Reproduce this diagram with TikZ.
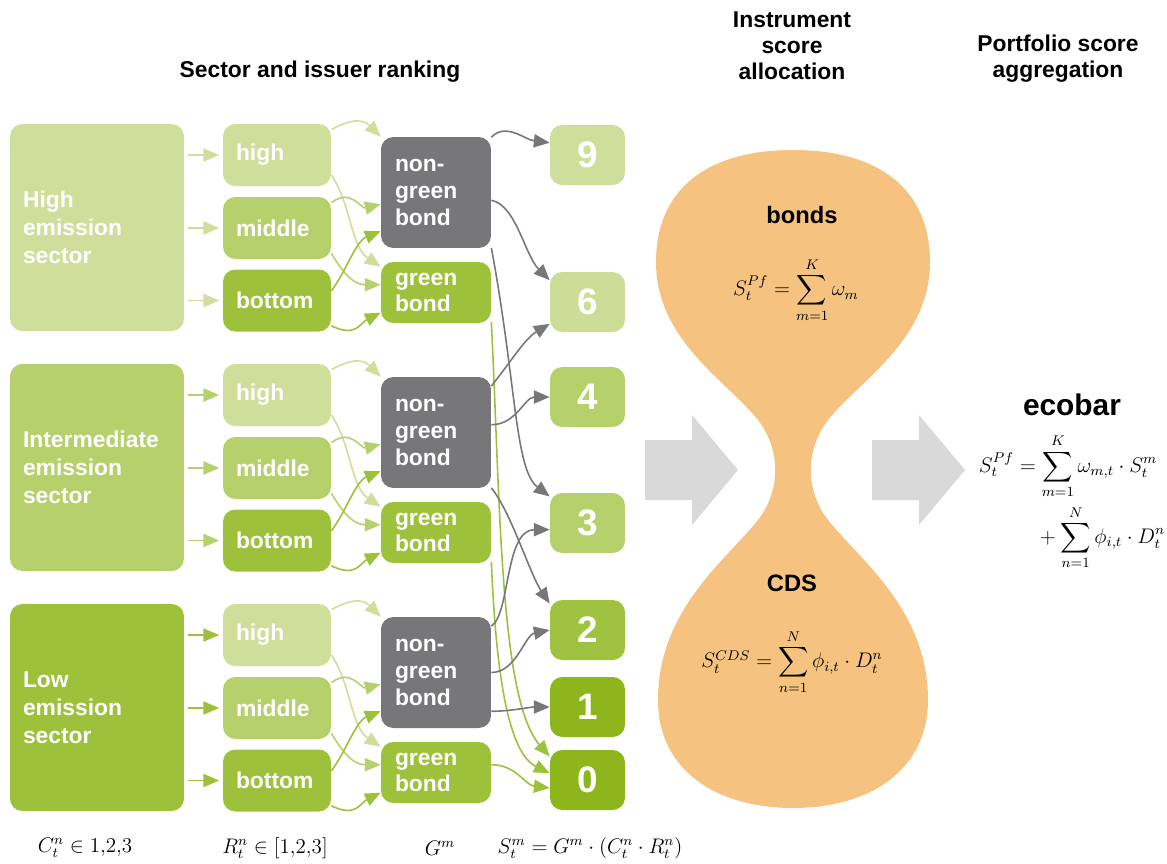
\documentclass[tikz,border=0pt]{standalone}
\usepackage[no-math]{fontspec}
\setmainfont{Liberation Sans}
\usepackage{amsmath}
\usetikzlibrary{arrows.meta}
\definecolor{lgreen}{HTML}{D0DE9C}
\definecolor{mgreen}{HTML}{B6D06C}
\definecolor{dgreen}{HTML}{9DC13B}
\definecolor{xgreen}{HTML}{8DB61C}
\definecolor{bgray}{HTML}{77777A}
\definecolor{sand}{HTML}{F5C37F}
\definecolor{pale}{HTML}{D9D9D9}
\begin{document}
\begin{tikzpicture}[x=0.02cm, y=-0.02cm,
  boxbase/.style={rectangle, rounded corners=7pt, text=white, inner ysep=0pt},
  secbox/.style={boxbase, minimum width=3.48cm, minimum height=4.14cm, text width=2.96cm, inner xsep=0.26cm, align=left, font=\bfseries\fontsize{13}{15.9}\selectfont},
  rankbox/.style={boxbase, minimum width=2.16cm, minimum height=1.24cm, text width=1.64cm, inner xsep=0.26cm, align=left, font=\bfseries\fontsize{13}{15.9}\selectfont},
  bondbox/.style={boxbase, minimum width=2.2cm, text width=1.64cm, inner xsep=0.28cm, align=left, font=\bfseries\fontsize{13}{15.3}\selectfont},
  scorebox/.style={boxbase, minimum width=1.5cm, minimum height=1.2cm, font=\bfseries\fontsize{21}{24}\selectfont},
  headtxt/.style={align=center, font=\bfseries\fontsize{13}{14.7}\selectfont},
  mathtxt/.style={font=\fontsize{12}{14}\selectfont},
  link/.style={line width=0.9pt, -{Triangle[length=9pt,width=7.5pt]}},
]
\useasboundingbox (0,0) rectangle (1167,863);

% titles
\node[headtxt] (hsec) at (320,72) {Sector and issuer ranking};
\node[headtxt] (hins) at (792,46) {Instrument\\score\\allocation};
\node[headtxt] (hpf) at (1058,59) {Portfolio score\\aggregation};

% sectors
\node[secbox, fill=lgreen] (sec1) at (97,227.5) {High\\emission\\sector};
\node[secbox, fill=mgreen] (sec2) at (97,467.5) {Intermediate\\emission\\sector};
\node[secbox, fill=dgreen] (sec3) at (97,707.5) {Low\\emission\\sector};

% issuer ranking
\node[rankbox, fill=lgreen] (hi1) at (277,155) {high};
\node[rankbox, fill=mgreen] (mi1) at (277,228) {middle};
\node[rankbox, fill=dgreen] (bo1) at (277,300.5) {bottom};
\node[rankbox, fill=lgreen] (hi2) at (277,395) {high};
\node[rankbox, fill=mgreen] (mi2) at (277,468) {middle};
\node[rankbox, fill=dgreen] (bo2) at (277,540.5) {bottom};
\node[rankbox, fill=lgreen] (hi3) at (277,635) {high};
\node[rankbox, fill=mgreen] (mi3) at (277,708) {middle};
\node[rankbox, fill=dgreen] (bo3) at (277,780.5) {bottom};

% bond type
\node[bondbox, fill=bgray, minimum height=2.22cm] (ng1) at (436,192.5) {non-\\green\\bond};
\node[bondbox, fill=dgreen, minimum height=1.22cm] (gb1) at (436,292.5) {green\\bond};
\node[bondbox, fill=bgray, minimum height=2.22cm] (ng2) at (436,432.5) {non-\\green\\bond};
\node[bondbox, fill=dgreen, minimum height=1.22cm] (gb2) at (436,532.5) {green\\bond};
\node[bondbox, fill=bgray, minimum height=2.22cm] (ng3) at (436,672.5) {non-\\green\\bond};
\node[bondbox, fill=dgreen, minimum height=1.22cm] (gb3) at (436,772.5) {green\\bond};

% scores
\node[scorebox, fill=lgreen] (sc9) at (587.5,155) {9};
\node[scorebox, fill=lgreen!95!dgreen] (sc6) at (587.5,302) {6};
\node[scorebox, fill=mgreen] (sc4) at (587.5,397) {4};
\node[scorebox, fill=mgreen] (sc3) at (587.5,523) {3};
\node[scorebox, fill=dgreen!90!mgreen] (sc2) at (587.5,630) {2};
\node[scorebox, fill=xgreen] (sc1) at (587.5,707) {1};
\node[scorebox, fill=xgreen] (sc0) at (587.5,780) {0};

% sector -> ranking
\draw[link, lgreen, shorten <=2pt, shorten >=2pt] (sec1.east |- hi1.west) -- (hi1.west);
\draw[link, lgreen, shorten <=2pt, shorten >=2pt] (sec1.east |- mi1.west) -- (mi1.west);
\draw[link, lgreen, shorten <=2pt, shorten >=2pt] (sec1.east |- bo1.west) -- (bo1.west);
\draw[link, mgreen, shorten <=2pt, shorten >=2pt] (sec2.east |- hi2.west) -- (hi2.west);
\draw[link, mgreen, shorten <=2pt, shorten >=2pt] (sec2.east |- mi2.west) -- (mi2.west);
\draw[link, mgreen, shorten <=2pt, shorten >=2pt] (sec2.east |- bo2.west) -- (bo2.west);
\draw[link, dgreen, shorten <=2pt, shorten >=2pt] (sec3.east |- hi3.west) -- (hi3.west);
\draw[link, dgreen, shorten <=2pt, shorten >=2pt] (sec3.east |- mi3.west) -- (mi3.west);
\draw[link, dgreen, shorten <=2pt, shorten >=2pt] (sec3.east |- bo3.west) -- (bo3.west);

% ranking -> bond type
\draw[link, lgreen] (hi1.25) .. controls +(25,-14) and +(-15,-15) .. (ng1.north west);
\draw[link, lgreen] (hi1.-20) .. controls +(20,30) and +(-30,-20) .. (gb1.155);
\draw[link, mgreen] (mi1.25) .. controls +(20,-15) and +(-20,5) .. (ng1.192);
\draw[link, mgreen] (mi1.-25) .. controls +(15,25) and +(-25,0) .. (gb1.172);
\draw[link, dgreen] (bo1.10) .. controls +(15,-20) and +(-25,10) .. (ng1.215);
\draw[link, dgreen] (bo1.-25) .. controls +(25,12) and +(-20,10) .. (gb1.200);
\draw[link, lgreen] (hi2.25) .. controls +(25,-14) and +(-15,-15) .. (ng2.north west);
\draw[link, lgreen] (hi2.-20) .. controls +(20,30) and +(-30,-20) .. (gb2.155);
\draw[link, mgreen] (mi2.25) .. controls +(20,-15) and +(-20,5) .. (ng2.192);
\draw[link, mgreen] (mi2.-25) .. controls +(15,25) and +(-25,0) .. (gb2.172);
\draw[link, dgreen] (bo2.10) .. controls +(15,-20) and +(-25,10) .. (ng2.215);
\draw[link, dgreen] (bo2.-25) .. controls +(25,12) and +(-20,10) .. (gb2.200);
\draw[link, lgreen] (hi3.25) .. controls +(25,-14) and +(-15,-15) .. (ng3.north west);
\draw[link, lgreen] (hi3.-20) .. controls +(20,30) and +(-30,-20) .. (gb3.155);
\draw[link, mgreen] (mi3.25) .. controls +(20,-15) and +(-20,5) .. (ng3.192);
\draw[link, mgreen] (mi3.-25) .. controls +(15,25) and +(-25,0) .. (gb3.172);
\draw[link, dgreen] (bo3.10) .. controls +(15,-20) and +(-25,10) .. (ng3.215);
\draw[link, dgreen] (bo3.-25) .. controls +(25,12) and +(-20,10) .. (gb3.200);

% bond type -> score
\draw[link, bgray] (ng1.45) .. controls +(15,-15) and +(-25,-3) .. (sc9.162);
\draw[link, bgray] (ng1.-8) .. controls +(25,5) and +(-25,-25) .. (sc6.150);
\draw[link, bgray] (ng1.-45) .. controls +(25,134) and +(-35,-27) .. (sc3.145);
\draw[link, dgreen] (gb1.-28) .. controls +(9,180) and +(-50,-57) .. (sc0.148);
\draw[link, bgray] (ng2.40) .. controls +(20,-25) and +(-25,15) .. (sc6.210);
\draw[link, bgray] (ng2.8) .. controls +(25,0) and +(-25,0) .. (sc4.west);
\draw[link, bgray] (ng2.-45) .. controls +(20,25) and +(-20,-30) .. (sc2.145);
\draw[link, dgreen] (gb2.-28) .. controls +(5,120) and +(-40,-20) .. (sc0.170);
\draw[link, bgray] (ng3.40) .. controls +(19,-12) and +(-45,0) .. (sc3.190);
\draw[link, bgray] (ng3.0) .. controls +(25,0) and +(-25,5) .. (sc2.west);
\draw[link, bgray] (ng3.-35) .. controls +(20,0) and +(-20,0) .. (sc1.west);
\draw[link, dgreen] (gb3.8) .. controls +(25,0) and +(-25,-3) .. (sc0.192);

% instrument score allocation
\fill[sand] (793,150) .. controls (880,150) and (930,190) .. (930,262)
  .. controls (930,340) and (860,380) .. (828,420)
  .. controls (805,450) and (805,490) .. (828,520)
  .. controls (860,560) and (928,610) .. (928,700)
  .. controls (928,770) and (870,808) .. (793,808)
  .. controls (716,808) and (658,770) .. (658,700)
  .. controls (658,610) and (726,560) .. (758,520)
  .. controls (781,490) and (781,450) .. (758,420)
  .. controls (726,380) and (656,340) .. (656,262)
  .. controls (656,190) and (706,150) .. (793,150) -- cycle;
\fill[pale] (645,440) -- (692,440) -- (692,415) -- (738,470) -- (692,525) -- (692,500) -- (645,500) -- cycle;
\fill[pale] (872,440) -- (919,440) -- (919,415) -- (965,470) -- (919,525) -- (919,500) -- (872,500) -- cycle;

\node[headtxt, font=\bfseries\fontsize{13.5}{16}\selectfont] (tbonds) at (802,215) {bonds};
\node[mathtxt] (fbonds) at (796,290) {$S_t^{Pf}=\displaystyle\sum_{m=1}^{K}\omega_m$};
\node[headtxt, font=\bfseries\fontsize{13.5}{16}\selectfont] (tcds) at (792,583) {CDS};
\node[mathtxt] (fcds) at (792,662) {$S_t^{CDS}=\displaystyle\sum_{n=1}^{N}\phi_{i,t}\cdot D_t^n$};

% portfolio score aggregation
\node[headtxt, font=\bfseries\fontsize{17}{19}\selectfont] (teco) at (1072,405) {ecobar};
\node[mathtxt] (feco) at (1072,502) {$\begin{aligned}S_t^{Pf}&=\sum_{m=1}^{K}\omega_{m,t}\cdot S_t^m\\ &\quad+\sum_{n=1}^{N}\phi_{i,t}\cdot D_t^n\end{aligned}$};

% notation
\node[mathtxt] (ncol1) at (85,848) {$C_t^n\in 1{,}2{,}3$};
\node[mathtxt] (ncol2) at (275,848) {$R_t^n\in[1{,}2{,}3]$};
\node[mathtxt] (ncol3) at (440,848) {$G^m$};
\node[mathtxt] (ncol4) at (590,848) {$S_t^m=G^m\cdot(C_t^n\cdot R_t^n)$};
\end{tikzpicture}
\end{document}
